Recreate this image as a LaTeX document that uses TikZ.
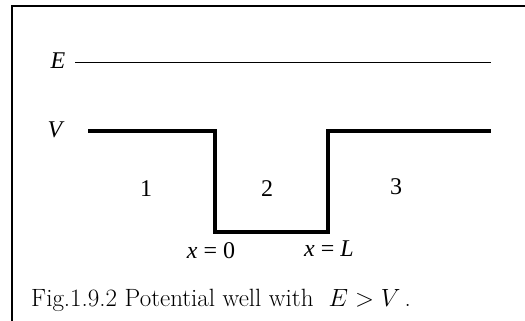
\documentclass[tikz,border=0pt]{standalone}
\usepackage{fontspec}
\newfontfamily\tnr{Liberation Serif}
\begin{document}
\begin{tikzpicture}[x=1pt,y=-1pt,
  lab/.style={inner sep=0pt,font=\tnr\fontsize{24}{28}\selectfont},
  ilab/.style={inner sep=0pt,font=\tnr\itshape\fontsize{24}{28}\selectfont},
  well/.style={line width=4pt,line join=miter},
  level/.style={line width=1.4pt},
  frame/.style={line width=1.5pt}]
\useasboundingbox (0,0) rectangle (525,321);
% frame (right and bottom fall outside the picture)
\draw[frame] (12,330) -- (12,6) -- (540,6);
% energy level E
\node[ilab] (E) at (58,61) {E};
\coordinate (Ea) at (75,62.5);
\coordinate (Eb) at (491,62.5);
\draw[level] (Ea) -- (Eb);
% potential V
\node[ilab] (V) at (55,130) {V};
\coordinate (p1) at (88,131);
\coordinate (p2) at (214.5,131);
\coordinate (p3) at (214.5,232);
\coordinate (p4) at (327.5,232);
\coordinate (p5) at (327.5,131);
\coordinate (p6) at (491,131);
\draw[well] (p1) -- (p2) -- (p3) -- (p4) -- (p5) -- (p6);
% region labels
\node[lab] (r1) at (146,189) {1};
\node[lab] (r2) at (267,189) {2};
\node[lab] (r3) at (396,187) {3};
% boundary labels
\node[lab,anchor=base] (x0) at (211,258) {\itshape x\upshape\ = 0};
\node[lab,anchor=base] (xL) at (329,256) {\itshape x\upshape\ = \itshape L};
% caption
\node[inner sep=0pt,anchor=base west,font=\fontsize{25}{30}\selectfont] (cap) at (31,306)
  {Fig.1.9.2 Potential well with \ $E>V$\,.};
\end{tikzpicture}
\end{document}
